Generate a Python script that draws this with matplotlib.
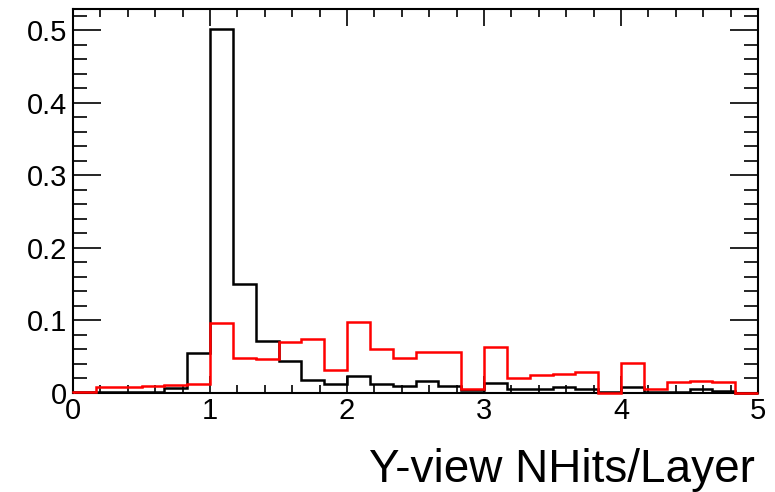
import numpy as np
import matplotlib.pyplot as plt
from matplotlib.ticker import MultipleLocator

plt.rcParams['font.family'] = ['Liberation Sans', 'DejaVu Sans']

# 30 bins between 0 and 5
bin_edges = np.linspace(0, 5, 31)

# normalised Y-view hits per layer, black sample
black_vals = [0.001, 0.002, 0.002, 0.002, 0.007, 0.055, 0.502, 0.150, 0.071, 0.044,
              0.018, 0.013, 0.023, 0.013, 0.010, 0.017, 0.010, 0.004, 0.014, 0.005,
              0.006, 0.008, 0.005, 0.001, 0.008, 0.002, 0.002, 0.006, 0.003, 0.000]

# red sample
red_vals = [0.001, 0.008, 0.008, 0.010, 0.011, 0.013, 0.096, 0.048, 0.047, 0.070,
            0.075, 0.032, 0.098, 0.061, 0.048, 0.057, 0.056, 0.006, 0.063, 0.020,
            0.025, 0.026, 0.029, 0.000, 0.041, 0.006, 0.015, 0.017, 0.015, 0.000]

W, H = 775, 492
fig = plt.figure(figsize=(W / 100, H / 100), dpi=100)
ax = fig.add_axes([73 / W, (H - 393) / H, (758 - 73) / W, (393 - 9) / H])

# draw above the frame so empty bins still show along the x axis
ax.stairs(black_vals, bin_edges, color='black', linewidth=1.8, zorder=3, clip_on=False)
ax.stairs(red_vals, bin_edges, color='red', linewidth=1.8, zorder=3, clip_on=False)

ax.set_xlim(0, 5)
ax.set_ylim(0, 0.529)

ax.xaxis.set_major_locator(MultipleLocator(1))
ax.xaxis.set_minor_locator(MultipleLocator(0.2))
ax.yaxis.set_major_locator(MultipleLocator(0.1))
ax.yaxis.set_minor_locator(MultipleLocator(0.02))
ax.yaxis.set_major_formatter(plt.FuncFormatter(lambda v, p: '0' if abs(v) < 1e-9 else f'{v:.1f}'))

ax.tick_params(which='both', direction='in', top=True, right=True, labelsize=21, width=1.2)
ax.tick_params(axis='x', which='major', length=12, pad=3)
ax.tick_params(axis='x', which='minor', length=6)
ax.tick_params(axis='y', which='major', length=20, pad=4)
ax.tick_params(axis='y', which='minor', length=10)
for s in ax.spines.values():
    s.set_linewidth(1.5)

fig.text(755 / W, 1 - 482 / H, 'Y-view NHits/Layer', ha='right', va='baseline', fontsize=33)

fig.savefig('out.png', dpi=100)
